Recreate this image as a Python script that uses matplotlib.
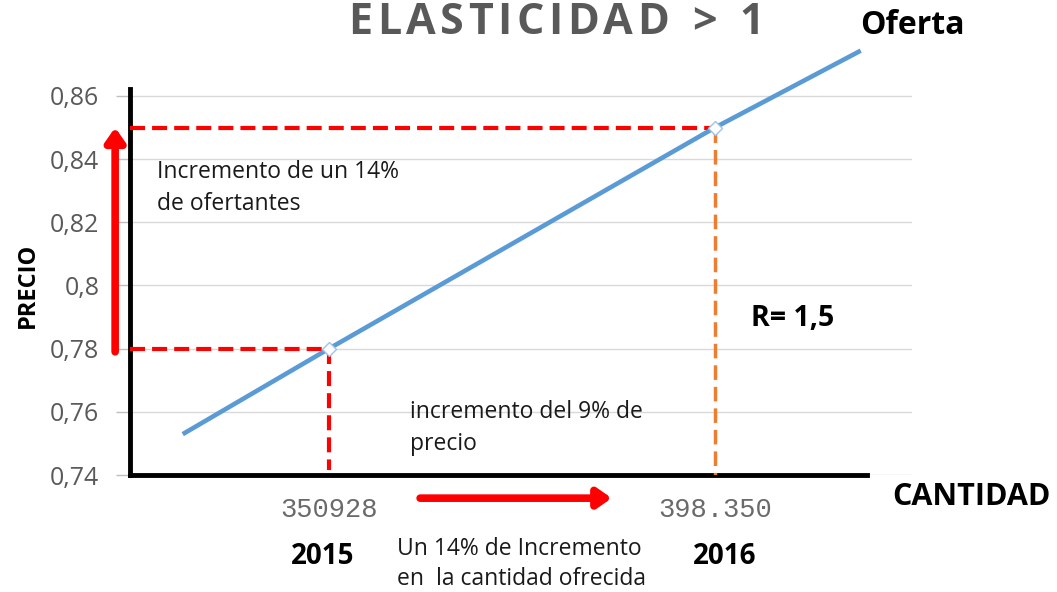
import matplotlib.pyplot as plt
from matplotlib.ticker import FuncFormatter
from matplotlib.font_manager import FontProperties

# data
cantidad = [333200, 350928, 398350, 416000]
precio = [0.7533, 0.78, 0.85, 0.874]
anios = ['2015', '2016']
xlabels = ['350928', '398.350']
yticks = [0.74, 0.76, 0.78, 0.80, 0.82, 0.84, 0.86]
titulo = 'ELASTICIDAD > 1'

W, H = 1057, 592
plt.rcParams['font.family'] = ['Open Sans', 'DejaVu Sans']

fig = plt.figure(figsize=(W / 100, H / 100), dpi=100)
ax = fig.add_axes([130 / W, 1 - 475 / H, 782 / W, 386 / H])

ax.set_xlim(326481, 422548)
ax.set_ylim(0.74, 0.8622)

# oferta
ax.plot(cantidad, precio, color='#5B9BD5', lw=3.3, clip_on=False, zorder=5,
        marker='D', markevery=[1, 2], ms=7, mfc='white', mec='#9DC3E6', mew=1)

# guide lines
ax.plot([ax.get_xlim()[0], cantidad[1]], [precio[1], precio[1]], color='red', lw=3,
        ls=(0, (3.6, 1.7)), zorder=4)
ax.plot([cantidad[1], cantidad[1]], [precio[1], 0.7415], color='red', lw=3,
        ls=(0, (3.6, 1.7)), zorder=4)
ax.plot([ax.get_xlim()[0], cantidad[2]], [precio[2], precio[2]], color='red', lw=3,
        ls=(0, (3.6, 1.7)), zorder=4)
ax.plot([cantidad[2], cantidad[2]], [precio[2], 0.74], color='#ED7D31', lw=2.5,
        ls=(0, (4.2, 2.0)), zorder=4)

# axes styling
ax.set_yticks(yticks)
ax.yaxis.set_major_formatter(FuncFormatter(lambda v, p: f'{v:g}'.replace('.', ',')))
ax.tick_params(axis='y', length=10, color='#BFBFBF', width=1, pad=12,
               labelsize=18, labelcolor='#595959')
ax.grid(axis='y', color='#D9D9D9', lw=1)
ax.set_axisbelow(True)

ax.set_xticks(cantidad[1:3])
ax.set_xticklabels(xlabels, family='Liberation Mono', fontsize=19.5, color='#6a6a6a')
ax.tick_params(axis='x', length=0, pad=16)

for s in ['top', 'right']:
    ax.spines[s].set_visible(False)
ax.spines['left'].set_linewidth(3.5)
ax.spines['bottom'].set_linewidth(3.5)
ax.spines['bottom'].set_bounds(326481, 417021)

# arrows
ax.annotate('', xy=(-0.019, precio[2]), xytext=(-0.019, precio[1] - 0.001),
            xycoords=('axes fraction', 'data'), textcoords=('axes fraction', 'data'),
            arrowprops=dict(arrowstyle='-|>,head_width=0.28,head_length=0.4', lw=5.5,
                            color='red', shrinkA=0, shrinkB=0, mutation_scale=20),
            annotation_clip=False)
ax.annotate('', xy=(0.616, -0.06), xytext=(0.371, -0.06),
            xycoords='axes fraction', textcoords='axes fraction',
            arrowprops=dict(arrowstyle='-|>,head_width=0.28,head_length=0.4', lw=5.5,
                            color='red', shrinkA=0, shrinkB=0, mutation_scale=20),
            annotation_clip=False)


def px(x, y):
    return x / W, 1 - y / H


# title with letter spacing: one character at a time
tsize = 31
fp = FontProperties(family='Open Sans', weight='bold', size=tsize)
r = fig.canvas.get_renderer()
ws = []
for c in titulo:
    if c == ' ':
        ws.append(0.32 * tsize * 100 / 72)
    else:
        ws.append(r.get_text_width_height_descent(c, fp, False)[0])
tw = 415
gap = (tw - sum(ws)) / (len(titulo) - 1)
x0 = 556 - tw / 2
for c, w in zip(titulo, ws):
    if c != ' ':
        fig.text(*px(x0, 23), c, ha='left', va='center', fontproperties=fp, color='#595959')
    x0 += w + gap

fig.text(*px(912, 25), 'Oferta', ha='center', va='center', fontsize=23, fontweight='bold')
fig.text(*px(28, 285), 'PRECIO', ha='center', va='center', rotation=90,
         fontsize=17, fontweight='bold')
fig.text(*px(971, 497), 'CANTIDAD', ha='center', va='center', fontsize=22, fontweight='bold')
fig.text(*px(793, 318), 'R= 1,5', ha='center', va='center', fontsize=20.5, fontweight='bold')
fig.text(*px(323, 557), anios[0], ha='center', va='center', fontsize=20, fontweight='bold')
fig.text(*px(725, 557), anios[1], ha='center', va='center', fontsize=20, fontweight='bold')

body = dict(fontsize=16.5, color='#1a1a1a')
fig.text(*px(157, 188), 'Incremento de un 14%\nde ofertantes', ha='left', va='center',
         linespacing=1.5, **body)
fig.text(*px(410, 428), 'incremento del 9% de\nprecio', ha='left', va='center',
         linespacing=1.45, **body)
fig.text(*px(397, 564), 'Un 14% de Incremento\nen  la cantidad ofrecida', ha='left',
         va='center', linespacing=1.3, **body)

fig.savefig('out.png', dpi=100)
